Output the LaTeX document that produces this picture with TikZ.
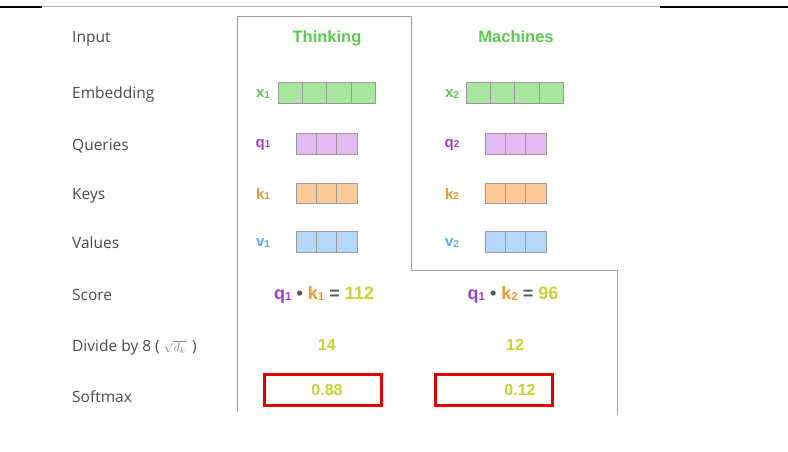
\documentclass[tikz,border=0pt]{standalone}
\usepackage{fontspec}
\setmainfont{Open Sans}
\newfontfamily\hfont{Liberation Sans}
\definecolor{labc}{HTML}{4A4A4A}
\definecolor{grn}{HTML}{5CC850}
\definecolor{grnfill}{HTML}{A8E6A0}
\definecolor{qc}{HTML}{A040C8}
\definecolor{qfill}{HTML}{E6B9F2}
\definecolor{kc}{HTML}{F0962D}
\definecolor{kfill}{HTML}{FDCB98}
\definecolor{vc}{HTML}{5AAAF0}
\definecolor{vfill}{HTML}{B5D7FA}
\definecolor{numc}{HTML}{C8D232}
\definecolor{dk}{HTML}{505860}
\definecolor{cellline}{HTML}{9A9A9A}
\newcommand{\sbs}[1]{{\fontsize{10}{10}\selectfont\raisebox{-0.5pt}{#1}}}
\newcommand{\sbb}[1]{{\fontsize{11.5}{11.5}\selectfont\raisebox{-0.5pt}{#1}}}
\tikzset{
  lab/.style={anchor=base west, text=labc, font=\fontsize{15.5}{18}\selectfont, inner sep=0},
  head/.style={anchor=base, text=grn, font=\hfont\bfseries\fontsize{16.5}{18}\selectfont, inner sep=0},
  vlab/.style={font=\hfont\bfseries\fontsize{15}{18}\selectfont, inner sep=0},
  slab/.style={font=\hfont\bfseries\fontsize{18}{20}\selectfont, inner sep=0},
  cell/.style={draw=cellline, line width=0.8, inner sep=0, minimum height=20.5},
  num/.style={text=numc, font=\hfont\bfseries\fontsize{16}{18}\selectfont, inner sep=0},
  smbox/.style={draw=red!90!black, line width=2.2, minimum width=117, minimum height=31, inner sep=0},
}
\begin{document}
\begin{tikzpicture}[x=1pt,y=-1pt]
\useasboundingbox (0,0) rectangle (788,452);
\fill[white] (0,0) rectangle (788,452);
% top rule
\draw[gray!60, line width=1] (0,7) -- (788,7);
\draw[black, line width=1.6] (0,7) -- (42,7);
\draw[black, line width=1.6] (660,7) -- (788,7);
% outline
\draw[gray!75, line width=0.9] (237,412) -- (237,16) -- (411,16) -- (411,270) -- (617,270) -- (617,415);
% left labels
\node[lab] (linput) at (72,43) {Input};
\node[lab] (lemb) at (72,99) {Embedding};
\node[lab] (lq) at (72,150) {Queries};
\node[lab] (lk) at (72,199) {Keys};
\node[lab] (lv) at (72,248) {Values};
\node[lab] (lscore) at (72,300) {Score};
\node[lab] (ldiv) at (72,351) {Divide by 8 ( {\color{gray}\fontsize{12.5}{12}\selectfont$\sqrt{d_k}$} \,)};
\node[lab] (lsoft) at (72,402) {Softmax};
% headers
\node[head] (h1) at (327,43) {Thinking};
\node[head] (h2) at (516,43) {Machines};
% embeddings
\node[vlab, text=grn] (x1) at (263,94) {x\sbs{1}};
\node[vlab, text=grn] (x2) at (452,94) {x\sbs{2}};
\foreach \i in {1,...,4} {
  \node[cell, fill=grnfill, minimum width=24.4] (xa\i) at ({278+(\i-0.5)*24.4},93) {};
  \node[cell, fill=grnfill, minimum width=24.4] (xb\i) at ({466+(\i-0.5)*24.4},93) {};
}
% q k v
\node[vlab, text=qc] (q1) at (263,145) {q\sbs{1}};
\node[vlab, text=qc] (q2) at (452,145) {q\sbs{2}};
\node[vlab, text=kc] (k1) at (263,194) {k\sbs{1}};
\node[vlab, text=kc] (k2) at (452,194) {k\sbs{2}};
\node[vlab, text=vc] (v1) at (263,243) {v\sbs{1}};
\node[vlab, text=vc] (v2) at (452,243) {v\sbs{2}};
\foreach \i in {1,2,3} {
  \node[cell, fill=qfill, minimum width=20.4] (qa\i) at ({296+(\i-0.5)*20.4},144) {};
  \node[cell, fill=qfill, minimum width=20.4] (qb\i) at ({485+(\i-0.5)*20.4},144) {};
  \node[cell, fill=kfill, minimum width=20.4] (ka\i) at ({296+(\i-0.5)*20.4},193.5) {};
  \node[cell, fill=kfill, minimum width=20.4] (kb\i) at ({485+(\i-0.5)*20.4},193.5) {};
  \node[cell, fill=vfill, minimum width=20.4] (va\i) at ({296+(\i-0.5)*20.4},242) {};
  \node[cell, fill=vfill, minimum width=20.4] (vb\i) at ({485+(\i-0.5)*20.4},242) {};
}
% scores
\node[slab] (s1) at (324,295) {\textcolor{qc}{q\sbb{1}} \textcolor{dk}{•} \textcolor{kc}{k\sbb{1}} \textcolor{dk}{=} \textcolor{numc}{112}};
\node[slab] (s2) at (513,295) {\textcolor{qc}{q\sbb{1}} \textcolor{dk}{•} \textcolor{kc}{k\sbb{2}} \textcolor{dk}{=} \textcolor{numc}{96}};
% divide
\node[num] (d1) at (327,345) {14};
\node[num] (d2) at (515,345) {12};
% softmax
\node[smbox] (b1) at (323,390) {};
\node[smbox] (b2) at (494,390) {};
\node[num] (p1) at (327,390) {0.88};
\node[num] (p2) at (520,390) {0.12};
\end{tikzpicture}
\end{document}
